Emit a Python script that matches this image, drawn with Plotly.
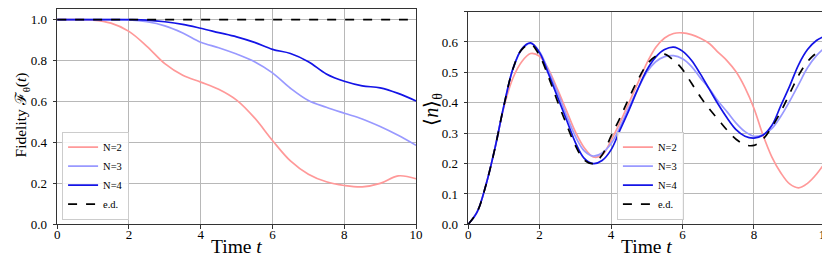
import plotly.graph_objects as go

# ---------------- data ----------------
t_fid = [0, 0.5, 1, 1.5, 2, 2.5, 3, 3.5, 4, 4.5, 5, 5.5, 6, 6.5, 7, 7.5, 8, 8.5, 9, 9.5, 10]
fid_N2 = [1, 1, 0.998, 0.983, 0.943, 0.87, 0.785, 0.728, 0.695, 0.66, 0.607, 0.52, 0.41, 0.31,
          0.245, 0.208, 0.19, 0.183, 0.2, 0.237, 0.223]
fid_N3 = [1, 1, 1, 1, 0.999, 0.99, 0.97, 0.935, 0.89, 0.863, 0.832, 0.795, 0.74, 0.665,
          0.605, 0.572, 0.543, 0.515, 0.478, 0.435, 0.386]
fid_N4 = [1, 1, 1, 1, 1, 0.998, 0.99, 0.977, 0.958, 0.937, 0.916, 0.889, 0.855, 0.835,
          0.795, 0.735, 0.699, 0.677, 0.667, 0.64, 0.603]
fid_ed = [1] * len(t_fid)

t_n = [0, 0.25, 0.5, 0.75, 1, 1.25, 1.5, 1.75, 2, 2.25, 2.5, 2.75, 3, 3.25, 3.5, 3.75,
       4, 4.25, 4.5, 4.75, 5, 5.25, 5.5, 5.75, 6, 6.25, 6.5, 6.75, 7, 7.25, 7.5, 7.75,
       8, 8.25, 8.5, 8.75, 9, 9.25, 9.5, 9.75, 10]
n_N2 = [0, 0.04, 0.13, 0.25, 0.385, 0.48, 0.535, 0.562, 0.553, 0.51, 0.445, 0.375, 0.305,
        0.252, 0.222, 0.228, 0.276, 0.335, 0.4, 0.465, 0.53, 0.582, 0.613, 0.628, 0.63,
        0.624, 0.612, 0.595, 0.566, 0.538, 0.502, 0.45, 0.382, 0.295, 0.222, 0.17, 0.133,
        0.12, 0.135, 0.165, 0.205]
n_N3 = [0, 0.04, 0.13, 0.25, 0.39, 0.51, 0.575, 0.595, 0.568, 0.505, 0.435, 0.36, 0.29,
        0.242, 0.225, 0.235, 0.265, 0.32, 0.385, 0.445, 0.5, 0.535, 0.552, 0.555, 0.545,
        0.52, 0.482, 0.447, 0.405, 0.37, 0.333, 0.305, 0.29, 0.295, 0.315, 0.355, 0.405,
        0.46, 0.515, 0.555, 0.583]
n_N4 = [0, 0.04, 0.13, 0.25, 0.39, 0.51, 0.577, 0.597, 0.565, 0.495, 0.42, 0.345, 0.27,
        0.217, 0.2, 0.21, 0.245, 0.31, 0.375, 0.445, 0.507, 0.55, 0.575, 0.583, 0.57,
        0.54, 0.495, 0.445, 0.395, 0.35, 0.312, 0.29, 0.284, 0.293, 0.325, 0.39, 0.455,
        0.525, 0.575, 0.605, 0.62]
n_ed = [0, 0.04, 0.13, 0.25, 0.39, 0.51, 0.575, 0.592, 0.555, 0.485, 0.405, 0.33, 0.26,
        0.212, 0.2, 0.228, 0.29, 0.35, 0.415, 0.475, 0.525, 0.553, 0.56, 0.54, 0.51,
        0.465, 0.42, 0.38, 0.345, 0.31, 0.28, 0.262, 0.26, 0.28, 0.32, 0.37, 0.43,
        0.49, 0.535, 0.562, 0.565]

labels = ["N=2", "N=3", "N=4", "e.d."]
x_ticks = [0, 2, 4, 6, 8, 10]

# ---------------- style ----------------
colors = ["#ff9999", "#9999ff", "#1414e6", "black"]
dashes = ["solid", "solid", "solid", "dash"]
FONT = "Liberation Serif, Times New Roman, serif"

fig = go.Figure()

for i, (lab, ys) in enumerate(zip(labels, [fid_N2, fid_N3, fid_N4, fid_ed])):
    fig.add_trace(go.Scatter(x=t_fid, y=ys, name=lab, mode="lines",
                             line=dict(color=colors[i], width=1.7, dash=dashes[i], shape="spline"),
                             xaxis="x", yaxis="y", legend="legend"))
for i, (lab, ys) in enumerate(zip(labels, [n_N2, n_N3, n_N4, n_ed])):
    fig.add_trace(go.Scatter(x=t_n, y=ys, name=lab, mode="lines",
                             line=dict(color=colors[i], width=1.7, dash=dashes[i], shape="spline"),
                             xaxis="x2", yaxis="y2", legend="legend2"))

W, H = 830, 258
def dx(px):
    return px / W
def dy(py):
    return (H - py) / H

axis_common = dict(showgrid=True, gridcolor="#b8b8b8", gridwidth=0.8, zeroline=False,
                   showline=True, linecolor="#333", linewidth=1, mirror=True,
                   ticks="outside", ticklen=3.5, tickcolor="#333",
                   tickfont=dict(family=FONT, size=13, color="black"))

legend_common = dict(bgcolor="rgba(255,255,255,0.85)", bordercolor="#cccccc", borderwidth=1,
                     font=dict(family=FONT, size=10.5, color="black"),
                     xanchor="left", yanchor="bottom", tracegroupgap=0, itemwidth=30)

fig.update_layout(
    width=W, height=H,
    margin=dict(l=0, r=0, t=0, b=0),
    plot_bgcolor="white", paper_bgcolor="white",
    xaxis=dict(domain=[dx(46.7), dx(410)], range=[0, 10], tickvals=x_ticks,
               ticklabelstandoff=-5, anchor="y", **axis_common),
    yaxis=dict(domain=[dy(223.3), dy(1.5)], range=[0, 1.05],
               tickvals=[0, 0.2, 0.4, 0.6, 0.8, 1.0], tickformat=".1f",
               ticklabelstandoff=3, anchor="x", **axis_common),
    xaxis2=dict(domain=[dx(462.7), dx(824.3)], range=[0, 10], tickvals=x_ticks,
                ticklabelstandoff=-5, anchor="y2", **axis_common),
    yaxis2=dict(domain=[dy(223.3), dy(3.7)], range=[0, 0.7],
                tickvals=[0, 0.1, 0.2, 0.3, 0.4, 0.5, 0.6, 0.7], tickformat=".1f",
                ticklabelstandoff=3, anchor="x2", **axis_common),
    legend=dict(x=dx(51.7), y=dy(218.3), **legend_common),
    legend2=dict(x=dx(613.3), y=dy(218.3), **legend_common),
    showlegend=True,
)

title_font = dict(family=FONT, size=19.5, color="black")
fig.add_annotation(text="Time <i>t</i>", xref="paper", yref="paper", x=dx(228), y=dy(246),
                   showarrow=False, font=title_font, xanchor="center", yanchor="middle")
fig.add_annotation(text="Time <i>t</i>", xref="paper", yref="paper", x=dx(643), y=dy(246),
                   showarrow=False, font=title_font, xanchor="center", yanchor="middle")
fig.add_annotation(text="Fidelity ℱ<sub>θ</sub>(<i>t</i>)", xref="paper", yref="paper",
                   x=dx(11), y=dy(110), textangle=-90, showarrow=False,
                   font=dict(family=FONT, size=15.5, color="black"),
                   xanchor="center", yanchor="middle")
fig.add_annotation(text="⟨<i>n</i>⟩<sub>θ</sub>", xref="paper", yref="paper",
                   x=dx(427), y=dy(104), textangle=-90, showarrow=False,
                   font=dict(family=FONT, size=20, color="black"),
                   xanchor="center", yanchor="middle")

fig.write_html("out.html")
